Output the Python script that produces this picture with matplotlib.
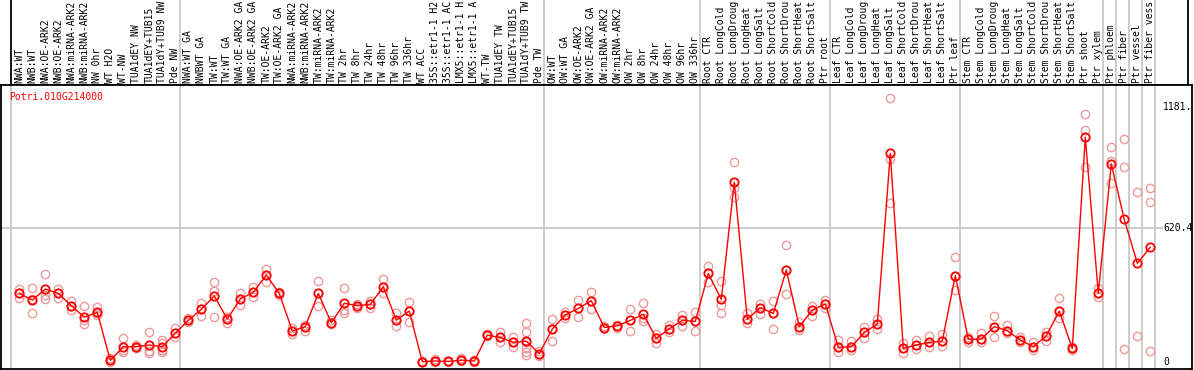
import matplotlib
matplotlib.use("Agg")
import matplotlib.pyplot as plt
import matplotlib.transforms as mtransforms

# sample labels (shown truncated to 14 chars like the original)
samples = ['NWA:WT', 'NWB:WT', 'NWA:OE-ARK2', 'NWB:OE-ARK2', 'NWA:miRNA-ARK2', 'NWB:miRNA-ARK2',
           'NW 0hr', 'WT H2O', 'WT-NW', 'TUA1dEY NW', 'TUA1dEY+TUB15', 'TUA1dY+TUB9 NW', 'Pde NW',
           'NWA:WT GA', 'NWBWT GA', 'TW:WT', 'TW:WT GA', 'NWA:OE-ARK2 GA', 'NWB:OE-ARK2 GA',
           'TW:OE-ARK2', 'TW:OE-ARK2 GA', 'NWA:miRNA-ARK2', 'NWB:miRNA-ARK2', 'TW:miRNA-ARK2',
           'TW:miRNA-ARK2', 'TW 2hr', 'TW 8hr', 'TW 24hr', 'TW 48hr', 'TW 96hr', 'TW 336hr', 'WT ACC',
           '35S::etr1-1 H2', '35S::etr1-1 AC', 'LMX5::etr1-1 H', 'LMX5::etr1-1 A', 'WT-TW',
           'TUA1dEY TW', 'TUA1dEY+TUB15', 'TUA1dY+TUB9 TW', 'Pde TW',
           'OW:WT', 'OW:WT GA', 'OW:OE-ARK2', 'OW:OE-ARK2 GA', 'OW:miRNA-ARK2', 'OW:miRNA-ARK2',
           'OW 2hr', 'OW 8hr', 'OW 24hr', 'OW 48hr', 'OW 96hr', 'OW 336hr',
           'Root CTR', 'Root LongCold', 'Root LongDroug', 'Root LongHeat', 'Root LongSalt',
           'Root ShortCold', 'Root ShortDrou', 'Root ShortHeat', 'Root ShortSalt', 'Ptr root',
           'Leaf CTR', 'Leaf LongCold', 'Leaf LongDroug', 'Leaf LongHeat', 'Leaf LongSalt',
           'Leaf ShortCold', 'Leaf ShortDrou', 'Leaf ShortHeat', 'Leaf ShortSalt', 'Ptr leaf',
           'Stem CTR', 'Stem LongCold', 'Stem LongDroug', 'Stem LongHeat', 'Stem LongSalt',
           'Stem ShortCold', 'Stem ShortDrou', 'Stem ShortHeat', 'Stem ShortSalt', 'Ptr shoot',
           'Ptr xylem', 'Ptr phloem', 'Ptr fiber', 'Ptr vessel', 'Ptr fiber vess']

# mean expression per sample
means = [318, 287, 338, 318, 261, 208, 230, 8, 71, 71, 79, 71, 133,
         193, 244, 306, 199, 292, 323, 403, 318, 144, 164, 318, 182, 272, 261, 267, 349, 194,
         236, 2, 5, 3, 9, 5, 125, 114, 91, 97, 39,
         153, 218, 248, 284, 160, 168, 193, 221, 110, 154, 193, 188,
         410, 290, 832, 198, 252, 225, 426, 164, 241, 269,
         68, 71, 137, 176, 966, 63, 79, 91, 97, 400,
         106, 106, 164, 145, 102, 71, 122, 236, 63, 1040,
         318, 917, 660, 457, 531]

# individual replicates per sample
reps = [[338, 318, 295], [344, 292, 225], [406, 310, 290], [338, 318, 298], [282, 261, 242],
        [259, 193, 177], [253, 225, 218], [17, 8, 2], [110, 56, 48], [79, 71, 63],
        [140, 52, 43], [102, 86, 56, 48], [156, 133, 114],
        [202, 193, 184], [272, 244, 213], [372, 329, 207], [210, 199, 182], [318, 292, 264],
        [346, 323, 301], [431, 403, 372], [323, 318, 310], [156, 144, 128], [171, 164, 144],
        [375, 318, 261], [194, 182, 177], [344, 241, 225], [269, 261, 252], [282, 267, 252],
        [384, 349, 318], [225, 194, 168], [276, 236, 187], [4, 2, 0], [14, 5, 2], [6, 3, 0],
        [17, 9, 4], [8, 5, 2], [128, 125, 120], [140, 114, 94], [117, 91, 71],
        [179, 137, 94, 63, 48, 32], [51, 39, 29],
        [198, 151, 99], [233, 218, 202], [287, 248, 207], [323, 284, 244], [168, 160, 156],
        [171, 168, 159], [245, 193, 145], [272, 202, 190], [128, 110, 86], [171, 154, 140],
        [218, 193, 165], [230, 188, 145],
        [446, 410, 372], [375, 264, 225], [924, 807, 765], [225, 198, 179], [269, 252, 221],
        [282, 225, 153], [542, 426, 313], [187, 164, 150], [261, 241, 213], [287, 269, 248],
        [102, 68, 48], [97, 71, 56], [164, 137, 110], [198, 176, 151], [1221, 940, 735],
        [86, 63, 40], [102, 79, 59], [122, 91, 71], [128, 97, 74], [488, 400, 333],
        [117, 106, 94], [133, 106, 94], [213, 164, 117], [171, 145, 133], [117, 102, 94],
        [94, 71, 56], [137, 122, 97], [295, 236, 202], [71, 63, 56], [1147, 1074, 904],
        [341, 318, 302], [994, 931, 827], [1031, 901, 59], [789, 120], [804, 742, 52]]

gene = 'Potri.010G214000'
ytick_vals = [1181, 620.4, 0]
ytick_text = ['1181.', '620.4', '0']

W, H = 1194, 370
RED = '#ff0000'
PINK = '#f09999'
GRID = '#c4c4c4'
MONO = 'DejaVu Sans Mono'
FS = 7

fig = plt.figure(figsize=(W / 100, H / 100), dpi=100)

# x index k sits at pixel 19.3 + 13*k
def px2k(p):
    return (p - 19.3) / 13.0

# group separators (before these sample indices)
seps = [0, 13, 41, 53, 63, 73, 84, 85, 86, 87, 88]
sep_x = [s - 0.64 for s in seps]

# ---- label strip on top
lab = fig.add_axes([11 / W, 1 - 85 / H, 1177 / W, 85 / H])
lab.set_xlim(px2k(11), px2k(1188))
lab.set_ylim(0, 1)
lab.set_xticks([])
lab.set_yticks([])
lab.spines['top'].set_visible(False)
for s in ['left', 'right', 'bottom']:
    lab.spines[s].set_linewidth(1.3)
for x in sep_x[1:]:
    lab.axvline(x, color=GRID, lw=1.2, zorder=0)
for k, name in enumerate(samples):
    lab.text(k, 0.025, name, rotation=90, ha='center', va='bottom',
             family=MONO, fontsize=FS, clip_on=True)

# ---- data panel
ax = fig.add_axes([1 / W, 1 - 369 / H, 1191 / W, 284 / H])
ax.set_xlim(px2k(1), px2k(1192))
ax.set_ylim(-32, 1282)
ax.set_xticks([])
ax.set_yticks([])
for s in ax.spines.values():
    s.set_linewidth(1.3)
for x in sep_x:
    ax.axvline(x, color=GRID, lw=1.2, zorder=0)
ax.plot([px2k(1), px2k(1162)], [620.4, 620.4], color=GRID, lw=1.2, zorder=0)

rx = [k for k, r in enumerate(reps) for _ in r]
ry = [v for r in reps for v in r]
ax.plot(rx, ry, 'o', ms=6, mfc='none', mec=PINK, mew=1.0, zorder=2)
ax.plot(range(len(means)), means, '-', color=RED, lw=1.0, zorder=3)
ax.plot(range(len(means)), means, 'o', ms=6, mfc='none', mec=RED, mew=1.3, zorder=4)

ax.text(0.007, 0.975, gene, transform=ax.transAxes, ha='left', va='top',
        color=RED, family=MONO, fontsize=FS)
tr = mtransforms.blended_transform_factory(ax.transAxes, ax.transData)
for v, t in zip(ytick_vals, ytick_text):
    ax.text(0.9756, v, t, transform=tr, ha='left', va='center',
            family=MONO, fontsize=FS)

fig.savefig('out.png', dpi=100)
